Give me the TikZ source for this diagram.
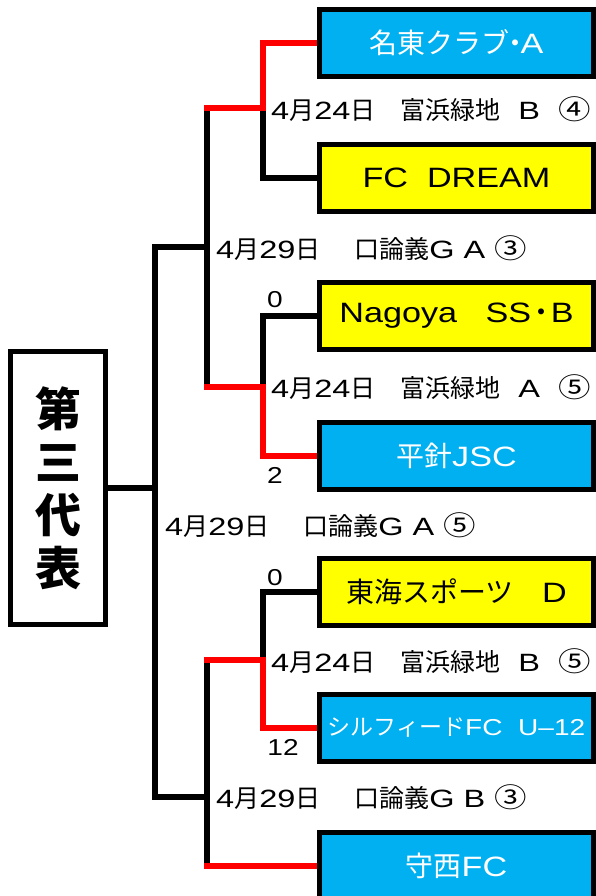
\documentclass[tikz,border=0pt]{standalone}
\usepackage{fontspec}
\usepackage{graphicx}
\setmainfont{Liberation Sans}[FakeStretch=1.22]
\newfontfamily\lab{Liberation Sans}[FakeStretch=1.3]
\newfontfamily\jp{Noto Sans CJK JP}
\newcommand\cnum[1]{{\jp\scalebox{1.3}[1.08]{#1}}}
\usetikzlibrary{backgrounds}
\definecolor{teamblue}{HTML}{00B0F0}
\definecolor{teamyellow}{HTML}{FFFF00}
\definecolor{winred}{HTML}{FF0000}
\begin{document}
\begin{tikzpicture}[x=1pt,y=-1pt,
  team/.style={draw=black, line width=5pt, minimum width=274pt, minimum height=67pt, inner sep=0pt, font=\fontsize{28}{28}\selectfont},
  blueteam/.style={team, fill=teamblue, text=white},
  yellowteam/.style={team, fill=teamyellow, text=black},
  link/.style={line width=6pt, line join=miter, black},
  win/.style={line width=6pt, line join=miter, winred},
  matchlabel/.style={anchor=west, inner sep=0pt, font=\lab\fontsize{25}{25}\selectfont},
  score/.style={inner sep=0pt, font=\fontsize{23}{23}\selectfont},
]
\useasboundingbox (0,0) rectangle (596,896);

% teams
\node[blueteam]   (t1) at (456.5,43)  {{\jp 名東クラブ\kern-.3em・\kern-.3em}A};
\node[yellowteam] (t2) at (456.5,178) {FC\ \ DREAM};
\node[yellowteam] (t3) at (456.5,316) {Nagoya\ \ \ SS{\jp\kern-.15em・\kern-.15em}B};
\node[blueteam]   (t4) at (456.5,456) {{\jp 平針}JSC};
\node[yellowteam] (t5) at (456.5,592) {{\jp 東海スポーツ}\ \ \ D};
\node[blueteam, font=\fontsize{23}{23}\selectfont] (t6) at (456.5,728) {{\jp シルフィード}FC\ \ U–12};
\node[blueteam]   (t7) at (456.5,866) {{\jp 守西}FC};

% title
\node[draw=black, line width=5pt, minimum width=95pt, minimum height=273pt, inner sep=0pt,
      align=center, font=\jp\bfseries\fontsize{46}{53}\selectfont] (title) at (58,488) {第\\三\\代\\表};

% junctions
\coordinate (m1) at (263,108);
\coordinate (m2) at (263,387);
\coordinate (m3) at (263,660);
\coordinate (q1) at (207,108);
\coordinate (q2) at (207,387);
\coordinate (q3) at (207,660);
\coordinate (q4) at (207,866);
\coordinate (s1) at (207,247);
\coordinate (s2) at (207,797);
\coordinate (f1) at (155,247);
\coordinate (f2) at (155,797);

\begin{pgfonlayer}{background}
\fill[white] (0,0) rectangle (596,896);
\draw[link] (t2.west) -| (m1);
\draw[link] (t3.west) -| (m2);
\draw[link] (t5.west) -| (m3);
\draw[link] (q1) -- (q2);
\draw[link] (q3) -- (q4);
\draw[link] (s1) -- (f1) -- (f2) -- (s2);
\draw[link] (title.east) -- (f1 |- title.east);
\draw[win] ([xshift=-3pt]q1) -- (m1) |- (t1.west);
\draw[win] ([xshift=-3pt]q2) -- (m2) |- (t4.west);
\draw[win] ([xshift=-3pt]q3) -- (m3) |- (t6.west);
\draw[win] ([xshift=-3pt]q4) -- (t7.west);
\end{pgfonlayer}

% match labels
\node[matchlabel] (l1) at (271,109) {4{\jp 月}24{\jp 日　富浜緑地}\ \ B\ \ \cnum{④}};
\node[matchlabel] (l2) at (216,248) {4{\jp 月}29{\jp 日　}\ {\jp 口論義}G\ A\ \cnum{③}};
\node[matchlabel] (l3) at (271,387) {4{\jp 月}24{\jp 日　富浜緑地}\ \ A\ \ \cnum{⑤}};
\node[matchlabel] (l4) at (165,525) {4{\jp 月}29{\jp 日　}\ {\jp 口論義}G\ A\ \cnum{⑤}};
\node[matchlabel] (l5) at (271,661) {4{\jp 月}24{\jp 日　富浜緑地}\ \ B\ \ \cnum{⑤}};
\node[matchlabel] (l6) at (216,797) {4{\jp 月}29{\jp 日　}\ {\jp 口論義}G\ B\ \cnum{③}};

% scores
\node[score] (sc1) at (275,300) {0};
\node[score] (sc2) at (275,475) {2};
\node[score] (sc3) at (275,578) {0};
\node[score] (sc4) at (283,747) {12};
\end{tikzpicture}
\end{document}
